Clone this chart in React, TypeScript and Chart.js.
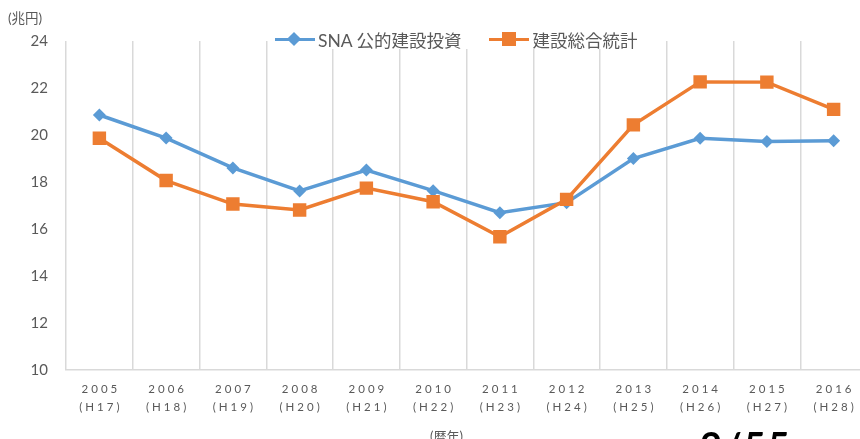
import React, { useEffect, useRef } from "react";
import { Chart, registerables } from "chart.js";

Chart.register(...registerables);

const years = ["2005", "2006", "2007", "2008", "2009", "2010", "2011", "2012", "2013", "2014", "2015", "2016"];
const heisei = ["(H17)", "(H18)", "(H19)", "(H20)", "(H21)", "(H22)", "(H23)", "(H24)", "(H25)", "(H26)", "(H27)", "(H28)"];
const snaLabel = "SNA 公的建設投資";
const sogoLabel = "建設総合統計";
const snaValues = [20.85, 19.87, 18.6, 17.62, 18.51, 17.63, 16.69, 17.12, 19.0, 19.86, 19.72, 19.76];
const sogoValues = [19.86, 18.06, 17.06, 16.81, 17.74, 17.16, 15.67, 17.26, 20.43, 22.26, 22.25, 21.09];
const yMin = 10;
const yMax = 24;
const yStep = 2;

const BLUE = "#5B9BD5";
const ORANGE = "#ED7D31";
const TEXT = "#595959";
const GRID = "#D9D9D9";
const FONT = "Lato, 'Noto Sans CJK JP', sans-serif";

const xLabelPlugin = {
  id: "xLabels",
  afterDraw(chart: any) {
    const ctx = chart.ctx;
    const xs = chart.scales.x;
    ctx.save();
    ctx.fillStyle = TEXT;
    ctx.font = `11.5px ${FONT}`;
    ctx.textAlign = "center";
    ctx.textBaseline = "middle";
    try {
      (ctx as any).letterSpacing = "3px";
    } catch (e) {}
    years.forEach((y, i) => {
      const x = xs.getPixelForValue(i) + 1.5;
      ctx.fillText(y, x, 389);
      ctx.fillText(heisei[i], x, 407);
    });
    ctx.restore();
  },
};

export default function App() {
  const ref = useRef<HTMLCanvasElement>(null);
  useEffect(() => {
    if (!ref.current) return;
    const chart = new Chart(ref.current, {
      type: "line",
      data: {
        labels: years,
        datasets: [
          {
            label: snaLabel,
            data: snaValues,
            borderColor: BLUE,
            backgroundColor: BLUE,
            borderWidth: 3.5,
            pointStyle: "rectRot",
            pointRadius: 6.5,
            pointBorderWidth: 0,
            pointBackgroundColor: BLUE,
            tension: 0,
            order: 1,
          },
          {
            label: sogoLabel,
            data: sogoValues,
            borderColor: ORANGE,
            backgroundColor: ORANGE,
            borderWidth: 3.5,
            pointStyle: "rect",
            pointRadius: 9.5,
            pointBorderWidth: 0,
            pointBackgroundColor: ORANGE,
            tension: 0,
            order: 0,
          },
        ],
      },
      options: {
        responsive: false,
        animation: false,
        devicePixelRatio: 1,
        layout: { padding: { top: 41, right: 33, left: 0, bottom: 0 } },
        plugins: {
          legend: { display: false },
          tooltip: { enabled: false },
          title: { display: false },
        },
        scales: {
          x: {
            type: "category",
            offset: true,
            grid: { display: true, offset: true, color: GRID, lineWidth: 1.5, drawTicks: false },
            border: { display: true, color: GRID, width: 1.5 },
            ticks: { display: false },
            afterFit: (s: any) => {
              s.height = 69;
            },
          },
          y: {
            min: yMin,
            max: yMax,
            grid: { display: false, drawTicks: false },
            border: { display: false },
            ticks: {
              stepSize: yStep,
              color: TEXT,
              padding: 18,
              font: { family: FONT, size: 15 },
            },
            afterFit: (s: any) => {
              s.width = 66;
            },
          },
        },
      },
      plugins: [xLabelPlugin],
    });
    return () => chart.destroy();
  }, []);

  const legendText: React.CSSProperties = {
    fontFamily: FONT,
    fontSize: 17.5,
    color: TEXT,
    whiteSpace: "nowrap",
  };

  return (
    <div
      style={{
        position: "fixed",
        left: 0,
        top: 0,
        width: 860,
        height: 439,
        overflow: "hidden",
        background: "#fff",
      }}
    >
      <canvas ref={ref} width={900} height={439} style={{ position: "absolute", left: 0, top: 0 }} />
      <div style={{ position: "absolute", left: 8, top: 7, fontFamily: FONT, fontSize: 13.5, color: TEXT }}>(兆円)</div>
      {/* legend */}
      <div style={{ position: "absolute", left: 275, top: 29, height: 20, display: "flex", alignItems: "center", background: "#fff" }}>
        <div style={{ position: "relative", width: 40, height: 20 }}>
          <div style={{ position: "absolute", left: 0, top: 8.5, width: 40, height: 3.5, background: BLUE }} />
          <div
            style={{
              position: "absolute",
              left: 14,
              top: 5,
              width: 10,
              height: 10,
              background: BLUE,
              transform: "rotate(45deg)",
            }}
          />
        </div>
        <span style={{ ...legendText, marginLeft: 3 }}>{snaLabel}</span>
        <div style={{ position: "relative", width: 40, height: 20, marginLeft: 27 }}>
          <div style={{ position: "absolute", left: 0, top: 8.5, width: 40, height: 3.5, background: ORANGE }} />
          <div style={{ position: "absolute", left: 13, top: 3, width: 14, height: 14, background: ORANGE }} />
        </div>
        <span style={{ ...legendText, marginLeft: 4 }}>{sogoLabel}</span>
      </div>
      <div style={{ position: "absolute", left: 430, top: 426, fontFamily: FONT, fontSize: 13, color: TEXT }}>(暦年)</div>
      <div
        style={{
          position: "absolute",
          left: 700,
          top: 422,
          fontFamily: FONT,
          fontSize: 38,
          fontWeight: 700,
          color: "#000",
          letterSpacing: 2,
        }}
      >
        2/55
      </div>
    </div>
  );
}
